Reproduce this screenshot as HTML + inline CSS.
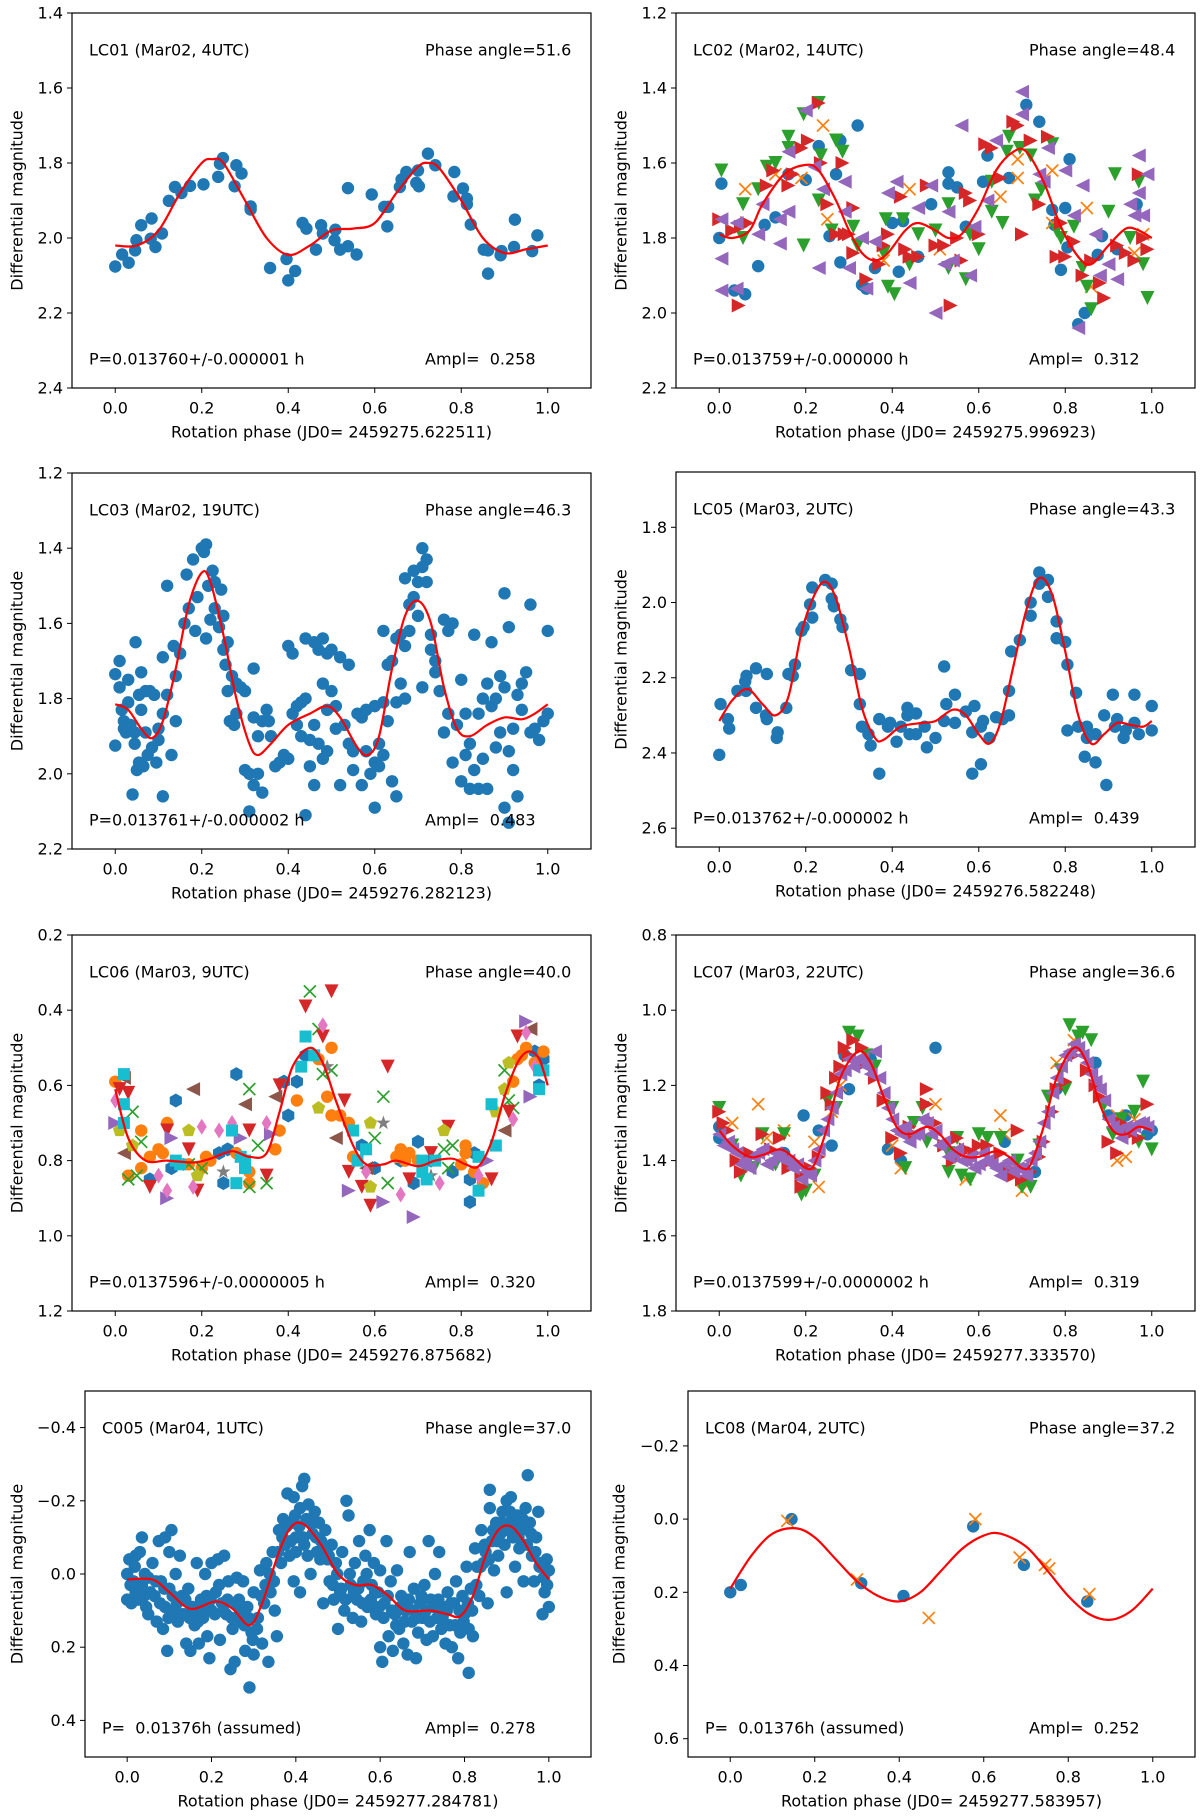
<!DOCTYPE html>
<html>
<head>
<meta charset="utf-8">
<style>
  html,body{margin:0;padding:0;background:#fff;}
  svg{display:block;}
  text{font-family:"DejaVu Sans","Liberation Sans",sans-serif;fill:#000;white-space:pre;}
</style>
</head>
<body>
<svg id="fig" width="1200" height="1816" viewBox="0 0 1200 1816" xmlns="http://www.w3.org/2000/svg" xml:space="preserve"></svg>
<script>
// ===== LC01 =====
const lc01Blue=[[0,2.076],[0.016,2.044],[0.031,2.066],[0.049,2.006],[0.046,2.033],[0.06,1.966],[0.084,1.948],[0.082,2.002],[0.093,2.024],[0.108,1.988],[0.124,1.901],[0.138,1.864],[0.153,1.88],[0.173,1.861],[0.204,1.857],[0.238,1.837],[0.242,1.802],[0.249,1.787],[0.276,1.862],[0.28,1.806],[0.292,1.828],[0.313,1.916],[0.313,1.924],[0.358,2.08],[0.396,2.056],[0.4,2.113],[0.416,2.088],[0.433,1.96],[0.442,1.975],[0.464,2.031],[0.476,1.966],[0.48,1.988],[0.509,1.978],[0.507,2.006],[0.52,2.031],[0.538,1.867],[0.538,2.022],[0.558,2.044],[0.593,1.884],[0.622,1.917],[0.631,1.917],[0.629,1.969],[0.658,1.864],[0.662,1.844],[0.673,1.824],[0.696,1.853],[0.702,1.862],[0.7,1.82],[0.723,1.775],[0.74,1.806],[0.784,1.824],[0.782,1.889],[0.804,1.868],[0.813,1.895],[0.813,1.91],[0.822,1.964],[0.852,2.031],[0.862,2.033],[0.862,2.095],[0.891,2.046],[0.893,2.035],[0.922,2.024],[0.924,1.951],[0.964,2.035],[0.976,1.993]];
const lc01Fit=[[0,2.02],[0.05,2.02],[0.1,1.98],[0.15,1.88],[0.2,1.80],[0.225,1.79],[0.25,1.80],[0.3,1.90],[0.35,2.00],[0.4,2.045],[0.45,2.02],[0.5,1.98],[0.55,1.975],[0.6,1.96],[0.65,1.88],[0.7,1.81],[0.725,1.80],[0.75,1.815],[0.8,1.90],[0.85,2.00],[0.9,2.04],[0.95,2.03],[1.0,2.02]];
// ===== LC02 =====
const lc02Blue=[[0,1.80],[0.005,1.655],[0.035,1.94],[0.06,1.95],[0.09,1.875],[0.105,1.765],[0.13,1.745],[0.16,1.63],[0.2,1.645],[0.23,1.555],[0.255,1.795],[0.28,1.54],[0.28,1.865],[0.27,1.63],[0.32,1.5],[0.33,1.925],[0.34,1.935],[0.36,1.88],[0.4,1.76],[0.415,1.89],[0.425,1.755],[0.46,1.85],[0.49,1.71],[0.53,1.625],[0.53,1.655],[0.55,1.665],[0.57,1.77],[0.61,1.65],[0.62,1.58],[0.67,1.64],[0.71,1.445],[0.74,1.49],[0.77,1.725],[0.775,1.765],[0.79,1.885],[0.8,1.72],[0.81,1.59],[0.805,1.825],[0.83,2.03],[0.845,2.0],[0.875,1.845],[0.885,1.795],[0.92,1.83],[0.965,1.71]];
const lc02Green=[[0.005,1.62],[0.055,1.8],[0.055,1.71],[0.09,1.67],[0.11,1.61],[0.13,1.6],[0.16,1.53],[0.16,1.56],[0.195,1.47],[0.195,1.82],[0.23,1.44],[0.23,1.7],[0.235,1.58],[0.26,1.78],[0.27,1.54],[0.285,1.57],[0.31,1.77],[0.32,1.82],[0.38,1.84],[0.385,1.75],[0.39,1.93],[0.405,1.95],[0.425,1.75],[0.44,1.87],[0.46,1.79],[0.5,1.78],[0.53,1.71],[0.53,1.88],[0.57,1.91],[0.58,1.79],[0.6,1.83],[0.63,1.65],[0.63,1.73],[0.655,1.76],[0.665,1.57],[0.67,1.53],[0.695,1.56],[0.72,1.58],[0.73,1.7],[0.745,1.67],[0.77,1.55],[0.78,1.78],[0.79,1.8],[0.82,1.77],[0.84,1.88],[0.85,1.93],[0.86,1.99],[0.9,1.73],[0.915,1.63],[0.95,1.8],[0.97,1.65],[0.98,1.87],[0.99,1.96]];
const lc02Red=[[0,1.75],[0.03,1.78],[0.05,1.77],[0.065,1.76],[0.045,1.98],[0.11,1.66],[0.125,1.62],[0.16,1.66],[0.17,1.63],[0.19,1.56],[0.205,1.54],[0.23,1.44],[0.235,1.6],[0.25,1.71],[0.285,1.6],[0.27,1.79],[0.29,1.79],[0.3,1.79],[0.31,1.72],[0.31,1.84],[0.34,1.91],[0.37,1.87],[0.38,1.82],[0.39,1.79],[0.42,1.69],[0.43,1.83],[0.44,1.85],[0.46,1.85],[0.48,1.66],[0.5,1.82],[0.52,1.82],[0.535,1.98],[0.55,1.8],[0.56,1.86],[0.57,1.68],[0.58,1.7],[0.6,1.79],[0.615,1.55],[0.63,1.56],[0.65,1.64],[0.68,1.49],[0.69,1.5],[0.7,1.79],[0.72,1.54],[0.74,1.71],[0.76,1.53],[0.78,1.85],[0.79,1.76],[0.8,1.85],[0.82,1.81],[0.84,1.9],[0.86,1.86],[0.88,1.92],[0.89,1.96],[0.92,1.82],[0.94,1.84],[0.96,1.86],[0.97,1.63],[0.98,1.8],[0.99,1.83]];
const lc02Purple=[[0.005,1.75],[0.005,1.855],[0.005,1.94],[0.04,1.935],[0.04,1.76],[0.09,1.79],[0.1,1.71],[0.14,1.75],[0.14,1.815],[0.16,1.57],[0.16,1.73],[0.2,1.46],[0.22,1.61],[0.23,1.88],[0.24,1.67],[0.29,1.65],[0.29,1.73],[0.3,1.88],[0.33,1.8],[0.34,1.935],[0.36,1.81],[0.39,1.68],[0.41,1.65],[0.44,1.92],[0.46,1.72],[0.49,1.66],[0.5,2.0],[0.52,1.87],[0.53,1.73],[0.54,1.86],[0.56,1.5],[0.58,1.9],[0.59,1.77],[0.62,1.7],[0.64,1.54],[0.7,1.47],[0.7,1.41],[0.74,1.63],[0.75,1.65],[0.76,1.56],[0.8,1.62],[0.82,1.74],[0.83,2.04],[0.84,1.66],[0.87,1.79],[0.88,1.9],[0.9,1.87],[0.92,1.91],[0.95,1.71],[0.96,1.74],[0.97,1.58],[0.97,1.68],[0.99,1.63],[0.98,1.74]];
const lc02Orange=[[0.06,1.67],[0.13,1.63],[0.19,1.64],[0.24,1.5],[0.25,1.75],[0.38,1.86],[0.44,1.67],[0.51,1.83],[0.65,1.69],[0.69,1.59],[0.69,1.64],[0.77,1.62],[0.77,1.76],[0.85,1.72],[0.86,1.93],[0.96,1.84],[0.98,1.79]];
const lc02Fit=[[0,1.79],[0.03,1.80],[0.07,1.78],[0.1,1.71],[0.15,1.63],[0.2,1.605],[0.23,1.62],[0.27,1.70],[0.3,1.78],[0.33,1.84],[0.36,1.86],[0.39,1.84],[0.43,1.78],[0.46,1.76],[0.5,1.78],[0.53,1.80],[0.56,1.79],[0.6,1.72],[0.64,1.62],[0.68,1.57],[0.71,1.57],[0.75,1.65],[0.79,1.77],[0.83,1.85],[0.86,1.87],[0.9,1.82],[0.94,1.775],[0.97,1.78],[1.0,1.80]];
// ===== LC03 =====
const lc03Blue=[[0,1.735],[0,1.925],[0.01,1.70],[0.01,1.77],[0.015,1.83],[0.02,1.86],[0.02,1.88],[0.025,1.89],[0.03,1.75],[0.03,1.81],[0.035,1.87],[0.04,2.055],[0.045,1.89],[0.045,1.92],[0.047,1.65],[0.05,1.99],[0.055,1.79],[0.055,1.97],[0.06,1.73],[0.06,1.83],[0.065,1.98],[0.07,1.78],[0.07,1.89],[0.075,1.95],[0.08,1.78],[0.085,1.93],[0.09,1.79],[0.095,1.97],[0.1,1.88],[0.1,1.91],[0.11,1.69],[0.11,1.84],[0.11,2.06],[0.12,1.50],[0.12,1.79],[0.13,1.95],[0.135,1.66],[0.14,1.86],[0.14,1.74],[0.15,1.68],[0.16,1.60],[0.165,1.47],[0.17,1.56],[0.18,1.43],[0.185,1.62],[0.19,1.53],[0.2,1.40],[0.205,1.41],[0.21,1.39],[0.21,1.64],[0.215,1.50],[0.22,1.59],[0.225,1.46],[0.23,1.49],[0.23,1.56],[0.24,1.61],[0.245,1.51],[0.25,1.58],[0.25,1.67],[0.255,1.71],[0.26,1.65],[0.26,1.78],[0.265,1.86],[0.27,1.74],[0.275,1.87],[0.28,1.76],[0.28,1.84],[0.29,1.77],[0.3,1.78],[0.3,1.99],[0.31,2.0],[0.31,2.1],[0.32,1.72],[0.32,1.85],[0.32,2.03],[0.33,1.90],[0.33,2.00],[0.34,1.86],[0.34,2.05],[0.35,1.83],[0.355,1.86],[0.36,1.90],[0.37,1.98],[0.38,1.97],[0.39,1.95],[0.4,1.66],[0.4,1.96],[0.41,1.68],[0.41,1.84],[0.42,1.82],[0.42,1.87],[0.43,1.81],[0.43,1.90],[0.44,1.64],[0.44,1.80],[0.44,2.11],[0.45,1.91],[0.45,1.98],[0.46,1.65],[0.46,1.87],[0.46,2.03],[0.47,1.67],[0.47,1.92],[0.48,1.64],[0.48,1.76],[0.48,1.96],[0.49,1.68],[0.49,1.83],[0.49,1.94],[0.5,1.67],[0.5,1.78],[0.51,1.82],[0.51,1.88],[0.52,1.69],[0.52,2.03],[0.53,1.87],[0.54,1.71],[0.54,1.92],[0.55,1.94],[0.55,1.99],[0.56,1.84],[0.57,2.03],[0.57,1.85],[0.58,1.83],[0.58,1.94],[0.59,2.0],[0.6,1.82],[0.6,1.97],[0.6,2.09],[0.61,1.92],[0.61,1.98],[0.62,1.81],[0.62,1.95],[0.62,1.62],[0.63,1.71],[0.63,1.86],[0.64,1.70],[0.64,2.02],[0.65,1.64],[0.65,1.81],[0.65,2.06],[0.66,1.63],[0.66,1.76],[0.67,1.48],[0.67,1.66],[0.67,1.80],[0.68,1.55],[0.68,1.62],[0.69,1.46],[0.69,1.53],[0.7,1.49],[0.7,1.58],[0.71,1.40],[0.71,1.45],[0.71,1.77],[0.72,1.49],[0.72,1.43],[0.73,1.63],[0.73,1.67],[0.74,1.70],[0.74,1.73],[0.75,1.78],[0.76,1.59],[0.76,1.89],[0.77,1.62],[0.77,1.84],[0.78,1.60],[0.78,1.97],[0.79,1.87],[0.8,1.75],[0.8,2.02],[0.81,1.84],[0.81,1.95],[0.82,1.92],[0.82,2.04],[0.83,1.63],[0.83,1.99],[0.84,1.84],[0.84,2.04],[0.85,1.80],[0.85,1.96],[0.86,1.76],[0.86,2.04],[0.87,1.65],[0.87,1.82],[0.88,1.80],[0.88,1.93],[0.89,1.89],[0.89,1.74],[0.9,1.52],[0.9,1.77],[0.9,2.09],[0.91,1.61],[0.91,1.94],[0.91,2.13],[0.92,1.88],[0.92,1.99],[0.93,1.79],[0.93,2.06],[0.94,1.76],[0.94,1.83],[0.95,1.73],[0.96,1.55],[0.96,1.89],[0.97,1.88],[0.98,1.91],[0.99,1.86],[1.0,1.84],[1.0,1.62]];
const lc03Fit=[[0,1.815],[0.03,1.83],[0.06,1.88],[0.085,1.905],[0.11,1.86],[0.14,1.72],[0.17,1.55],[0.2,1.465],[0.22,1.49],[0.25,1.63],[0.28,1.80],[0.31,1.92],[0.33,1.95],[0.36,1.92],[0.4,1.87],[0.45,1.84],[0.49,1.82],[0.52,1.85],[0.56,1.93],[0.585,1.95],[0.61,1.90],[0.64,1.72],[0.67,1.58],[0.7,1.54],[0.73,1.60],[0.76,1.77],[0.79,1.88],[0.82,1.90],[0.86,1.87],[0.9,1.85],[0.94,1.855],[0.97,1.84],[1.0,1.815]];
// ===== LC05 =====
const lc05Blue=[[0,2.405],[0.003,2.27],[0.02,2.31],[0.023,2.335],[0.042,2.235],[0.06,2.21],[0.063,2.195],[0.062,2.235],[0.085,2.175],[0.085,2.28],[0.11,2.19],[0.108,2.3],[0.11,2.31],[0.133,2.36],[0.135,2.345],[0.155,2.28],[0.16,2.19],[0.17,2.195],[0.175,2.165],[0.19,2.075],[0.195,2.065],[0.21,2.005],[0.215,2.04],[0.215,1.96],[0.245,1.94],[0.26,1.95],[0.26,1.99],[0.265,2.01],[0.28,2.045],[0.285,2.065],[0.305,2.18],[0.325,2.19],[0.325,2.27],[0.33,2.33],[0.345,2.35],[0.35,2.38],[0.37,2.31],[0.37,2.455],[0.39,2.33],[0.395,2.32],[0.41,2.37],[0.42,2.33],[0.435,2.28],[0.435,2.3],[0.44,2.35],[0.455,2.295],[0.455,2.35],[0.475,2.33],[0.48,2.385],[0.5,2.36],[0.52,2.17],[0.52,2.315],[0.525,2.27],[0.545,2.245],[0.545,2.32],[0.57,2.29],[0.585,2.345],[0.59,2.275],[0.585,2.455],[0.605,2.33],[0.605,2.43],[0.61,2.315],[0.625,2.36],[0.64,2.305],[0.655,2.31],[0.67,2.235],[0.67,2.3],[0.675,2.13],[0.695,2.1],[0.72,2.0],[0.72,2.035],[0.74,1.92],[0.74,1.95],[0.76,1.94],[0.76,1.985],[0.78,2.05],[0.78,2.095],[0.8,2.105],[0.805,2.165],[0.805,2.34],[0.825,2.24],[0.83,2.33],[0.845,2.41],[0.85,2.36],[0.85,2.33],[0.87,2.35],[0.87,2.425],[0.89,2.3],[0.895,2.485],[0.91,2.245],[0.915,2.33],[0.92,2.31],[0.935,2.36],[0.94,2.34],[0.96,2.245],[0.96,2.32],[0.97,2.35],[1.0,2.275],[1.0,2.34]];
const lc05Fit=[[0,2.315],[0.03,2.26],[0.065,2.23],[0.1,2.27],[0.13,2.30],[0.16,2.25],[0.19,2.08],[0.22,1.98],[0.245,1.945],[0.27,1.99],[0.3,2.12],[0.33,2.28],[0.36,2.36],[0.38,2.365],[0.42,2.33],[0.47,2.32],[0.5,2.315],[0.54,2.285],[0.57,2.30],[0.6,2.35],[0.625,2.375],[0.65,2.32],[0.68,2.17],[0.71,2.02],[0.74,1.935],[0.77,1.98],[0.8,2.13],[0.83,2.30],[0.86,2.375],[0.89,2.35],[0.92,2.32],[0.95,2.325],[0.98,2.33],[1.0,2.315]];
// ===== LC06 =====
const lc06Blue=[[0.14,0.64],[0.28,0.57],[0.13,0.82],[0.25,0.86],[0.39,0.59],[0.4,0.68],[0.6,0.82],[0.69,0.86],[0.7,0.75],[0.78,0.83],[0.82,0.91],[0.83,0.78],[0.97,0.51],[0.98,0.60],[0.99,0.53],[0.08,0.85],[0.26,0.77],[0.57,0.76],[0.73,0.80],[0.42,0.59],[0.24,0.78],[0.44,0.52],[0.66,0.80],[0.82,0.85]];
const lc06Orange=[[0,0.59],[0.06,0.72],[0.06,0.82],[0.1,0.77],[0.12,0.70],[0.2,0.82],[0.22,0.80],[0.28,0.78],[0.31,0.83],[0.31,0.86],[0.38,0.72],[0.42,0.64],[0.47,0.53],[0.5,0.50],[0.49,0.63],[0.5,0.68],[0.54,0.70],[0.55,0.79],[0.66,0.77],[0.67,0.80],[0.7,0.80],[0.8,0.81],[0.81,0.78],[0.81,0.76],[0.83,0.83],[0.85,0.86],[0.93,0.53],[0.95,0.50],[0.97,0.54],[0.99,0.51],[0.92,0.59],[0.03,0.84],[0.17,0.81],[0.08,0.79],[0.11,0.78],[0.21,0.79],[0.37,0.77],[0.52,0.68],[0.65,0.79],[0.68,0.78],[0.94,0.52]];
const lc06Green=[[0.03,0.85],[0.04,0.67],[0.05,0.84],[0.06,0.75],[0.17,0.81],[0.2,0.82],[0.31,0.61],[0.31,0.87],[0.33,0.76],[0.35,0.86],[0.45,0.35],[0.47,0.45],[0.48,0.57],[0.5,0.56],[0.6,0.74],[0.62,0.63],[0.63,0.86],[0.76,0.77],[0.77,0.82],[0.78,0.76],[0.9,0.56],[0.91,0.64],[0.92,0.66]];
const lc06Red=[[0.01,0.61],[0.03,0.62],[0.08,0.87],[0.12,0.72],[0.17,0.77],[0.19,0.88],[0.31,0.72],[0.35,0.84],[0.38,0.60],[0.44,0.39],[0.48,0.47],[0.5,0.35],[0.53,0.64],[0.54,0.83],[0.57,0.87],[0.59,0.92],[0.63,0.55],[0.68,0.85],[0.73,0.78],[0.77,0.71],[0.87,0.85],[0.93,0.47],[0.91,0.67]];
const lc06Purple=[[0,0.70],[0.13,0.74],[0.12,0.90],[0.29,0.74],[0.36,0.73],[0.54,0.88],[0.62,0.91],[0.69,0.95],[0.86,0.80],[0.95,0.43],[0.96,0.63]];
const lc06Brown=[[0.02,0.58],[0.02,0.78],[0.18,0.61],[0.3,0.65],[0.37,0.63],[0.51,0.74],[0.58,0.82],[0.96,0.45],[0.9,0.72]];
const lc06Pink=[[0,0.64],[0.1,0.84],[0.12,0.88],[0.18,0.87],[0.2,0.71],[0.24,0.72],[0.27,0.70],[0.35,0.70],[0.48,0.44],[0.58,0.83],[0.66,0.89],[0.75,0.86],[0.84,0.84],[0.92,0.69],[0.95,0.46],[0.97,0.55]];
const lc06Gray=[[0.25,0.83],[0.49,0.55],[0.62,0.70],[0.73,0.84]];
const lc06Olive=[[0.01,0.72],[0.04,0.76],[0.17,0.72],[0.19,0.84],[0.47,0.66],[0.59,0.70],[0.59,0.87],[0.76,0.72],[0.9,0.61],[0.91,0.54],[0.88,0.67]];
const lc06Cyan=[[0.02,0.57],[0.02,0.65],[0.02,0.70],[0.15,0.81],[0.27,0.72],[0.28,0.86],[0.3,0.80],[0.3,0.82],[0.43,0.55],[0.44,0.47],[0.46,0.52],[0.55,0.72],[0.56,0.80],[0.58,0.77],[0.71,0.83],[0.72,0.85],[0.74,0.80],[0.84,0.79],[0.84,0.88],[0.87,0.65],[0.88,0.76],[0.98,0.61],[0.98,0.56],[0.99,0.56],[0.14,0.80],[0.29,0.79],[0.71,0.80]];
const lc06Fit=[[0,0.61],[0.03,0.74],[0.07,0.80],[0.12,0.80],[0.18,0.805],[0.22,0.795],[0.27,0.775],[0.31,0.79],[0.35,0.78],[0.38,0.67],[0.41,0.55],[0.45,0.50],[0.48,0.54],[0.51,0.64],[0.55,0.76],[0.58,0.81],[0.62,0.81],[0.65,0.80],[0.7,0.815],[0.74,0.80],[0.78,0.795],[0.81,0.81],[0.84,0.815],[0.87,0.75],[0.9,0.63],[0.93,0.54],[0.955,0.51],[0.98,0.53],[1.0,0.60]];
// ===== LC07 =====
const lc07Purple=[[0,1.33],[0.02,1.35],[0.04,1.38],[0.06,1.40],[0.08,1.39],[0.1,1.37],[0.12,1.40],[0.14,1.39],[0.16,1.40],[0.18,1.41],[0.2,1.43],[0.22,1.40],[0.24,1.32],[0.26,1.26],[0.28,1.17],[0.3,1.13],[0.32,1.13],[0.34,1.15],[0.36,1.11],[0.38,1.22],[0.4,1.29],[0.42,1.33],[0.44,1.35],[0.46,1.33],[0.48,1.30],[0.5,1.32],[0.52,1.35],[0.54,1.38],[0.56,1.40],[0.58,1.39],[0.6,1.41],[0.62,1.40],[0.64,1.42],[0.66,1.41],[0.68,1.43],[0.7,1.42],[0.72,1.40],[0.74,1.35],[0.76,1.27],[0.78,1.18],[0.8,1.12],[0.82,1.09],[0.84,1.12],[0.86,1.17],[0.88,1.21],[0.9,1.29],[0.92,1.32],[0.94,1.31],[0.96,1.31],[0.98,1.30],[0.03,1.37],[0.09,1.38],[0.15,1.40],[0.27,1.22],[0.33,1.13],[0.45,1.33],[0.57,1.40],[0.69,1.42],[0.79,1.15],[0.85,1.14],[0.91,1.31],[0.97,1.30],[0.01,1.36],[0.05,1.41],[0.07,1.42],[0.11,1.41],[0.13,1.38],[0.17,1.42],[0.19,1.45],[0.21,1.44],[0.23,1.37],[0.25,1.29],[0.29,1.16],[0.31,1.15],[0.35,1.17],[0.37,1.18],[0.39,1.26],[0.41,1.32],[0.43,1.31],[0.47,1.29],[0.49,1.33],[0.51,1.36],[0.53,1.39],[0.55,1.37],[0.59,1.42],[0.61,1.38],[0.63,1.41],[0.65,1.44],[0.67,1.40],[0.71,1.44],[0.73,1.38],[0.75,1.30],[0.77,1.22],[0.81,1.11],[0.83,1.10],[0.87,1.19],[0.89,1.24],[0.93,1.34],[0.95,1.32],[0.99,1.31]];
const lc07Red=[[0,1.27],[0.01,1.30],[0.04,1.40],[0.05,1.43],[0.1,1.33],[0.14,1.34],[0.17,1.40],[0.19,1.44],[0.19,1.47],[0.21,1.42],[0.25,1.22],[0.27,1.18],[0.28,1.15],[0.29,1.10],[0.31,1.08],[0.33,1.10],[0.36,1.18],[0.4,1.34],[0.42,1.38],[0.45,1.33],[0.48,1.25],[0.48,1.21],[0.52,1.36],[0.55,1.34],[0.57,1.37],[0.6,1.36],[0.63,1.40],[0.67,1.42],[0.69,1.32],[0.7,1.45],[0.72,1.43],[0.75,1.35],[0.77,1.27],[0.8,1.19],[0.83,1.10],[0.87,1.20],[0.9,1.35],[0.92,1.38],[0.95,1.33],[0.99,1.25],[0.56,1.38],[0.62,1.36],[0.02,1.32],[0.07,1.38],[0.12,1.37],[0.16,1.42],[0.23,1.39],[0.26,1.25],[0.3,1.12],[0.34,1.14],[0.38,1.24],[0.44,1.31],[0.5,1.30],[0.54,1.40],[0.59,1.38],[0.65,1.38],[0.68,1.44],[0.74,1.39],[0.78,1.21],[0.82,1.12],[0.85,1.16],[0.88,1.23],[0.93,1.30],[0.97,1.34]];
const lc07Green=[[0,1.26],[0.03,1.36],[0.05,1.44],[0.1,1.33],[0.13,1.41],[0.15,1.33],[0.19,1.49],[0.2,1.48],[0.25,1.24],[0.27,1.26],[0.3,1.06],[0.32,1.07],[0.36,1.15],[0.4,1.26],[0.43,1.42],[0.47,1.26],[0.48,1.35],[0.53,1.38],[0.53,1.43],[0.55,1.34],[0.58,1.45],[0.62,1.34],[0.65,1.34],[0.69,1.40],[0.7,1.47],[0.72,1.47],[0.76,1.23],[0.8,1.21],[0.81,1.04],[0.84,1.06],[0.86,1.08],[0.89,1.25],[0.93,1.29],[0.96,1.27],[0.98,1.19],[1.0,1.37],[0.97,1.35],[0.08,1.42],[0.22,1.44],[0.34,1.12],[0.45,1.30],[0.56,1.44],[0.6,1.33],[0.74,1.36],[0.79,1.16],[0.83,1.07],[0.91,1.33]];
const lc07Orange=[[0.03,1.30],[0.09,1.25],[0.11,1.34],[0.15,1.32],[0.22,1.35],[0.23,1.47],[0.26,1.27],[0.28,1.20],[0.4,1.36],[0.42,1.42],[0.5,1.25],[0.52,1.36],[0.57,1.45],[0.65,1.28],[0.66,1.33],[0.7,1.48],[0.78,1.14],[0.82,1.08],[0.92,1.40],[0.94,1.39],[0.96,1.29],[0.92,1.28]];
const lc07Blue=[[0,1.31],[0,1.34],[0.15,1.38],[0.195,1.28],[0.23,1.32],[0.26,1.36],[0.3,1.21],[0.29,1.12],[0.35,1.13],[0.39,1.37],[0.42,1.40],[0.5,1.10],[0.66,1.35],[0.73,1.43],[0.78,1.21],[0.87,1.14],[0.9,1.28],[0.94,1.28],[0.99,1.33],[1.0,1.32]];
const lc07Fit=[[0,1.32],[0.03,1.36],[0.07,1.39],[0.1,1.385],[0.14,1.37],[0.17,1.39],[0.2,1.42],[0.22,1.41],[0.25,1.31],[0.28,1.18],[0.32,1.11],[0.35,1.14],[0.38,1.23],[0.41,1.31],[0.44,1.33],[0.48,1.31],[0.51,1.33],[0.54,1.37],[0.57,1.39],[0.6,1.39],[0.64,1.375],[0.67,1.39],[0.7,1.42],[0.72,1.41],[0.75,1.31],[0.78,1.18],[0.82,1.10],[0.85,1.14],[0.88,1.25],[0.91,1.32],[0.94,1.33],[0.97,1.31],[1.0,1.32]];
// ===== C005 =====
const c005Blue=[[0,0.0],[0,0.07],[0.005,-0.04],[0.01,0.08],[0.015,0.02],[0.02,0.05],[0.02,-0.05],[0.03,-0.06],[0.035,0.03],[0.035,-0.1],[0.04,0.06],[0.045,0.09],[0.05,0.01],[0.05,0.11],[0.06,-0.03],[0.065,0.06],[0.07,0.13],[0.075,-0.09],[0.08,0.02],[0.085,0.15],[0.09,-0.1],[0.09,0.09],[0.095,0.21],[0.1,0.04],[0.1,-0.06],[0.105,-0.12],[0.11,0.1],[0.115,0.0],[0.12,0.13],[0.125,-0.05],[0.13,0.06],[0.135,0.11],[0.14,0.19],[0.145,0.04],[0.15,0.21],[0.155,0.09],[0.16,0.14],[0.165,-0.03],[0.17,0.19],[0.175,0.07],[0.18,0.12],[0.185,0.0],[0.19,0.17],[0.195,0.23],[0.2,0.1],[0.2,-0.03],[0.21,0.05],[0.215,-0.04],[0.22,0.18],[0.225,0.08],[0.23,-0.05],[0.235,0.11],[0.24,0.02],[0.245,0.26],[0.25,0.15],[0.255,0.24],[0.26,0.01],[0.265,0.07],[0.27,0.13],[0.275,0.02],[0.28,0.21],[0.285,0.09],[0.29,0.31],[0.295,0.16],[0.3,0.05],[0.3,0.22],[0.31,0.12],[0.315,-0.01],[0.32,0.19],[0.325,0.08],[0.33,-0.03],[0.335,0.24],[0.34,0.05],[0.345,-0.06],[0.35,0.1],[0.355,0.17],[0.36,-0.12],[0.365,-0.03],[0.37,-0.15],[0.375,-0.08],[0.38,-0.22],[0.385,-0.05],[0.39,-0.14],[0.395,-0.21],[0.4,-0.1],[0.4,-0.06],[0.395,0.02],[0.41,-0.18],[0.41,0.05],[0.415,-0.24],[0.42,-0.26],[0.42,-0.08],[0.425,-0.15],[0.43,-0.19],[0.435,0.0],[0.44,-0.11],[0.445,-0.17],[0.45,-0.06],[0.455,-0.14],[0.46,-0.09],[0.465,0.08],[0.47,-0.12],[0.475,-0.04],[0.48,0.02],[0.485,-0.08],[0.49,0.07],[0.495,-0.03],[0.5,0.15],[0.505,0.05],[0.51,-0.06],[0.515,0.1],[0.52,-0.2],[0.525,-0.16],[0.53,0.03],[0.535,0.12],[0.54,-0.03],[0.545,0.07],[0.55,-0.09],[0.555,0.13],[0.56,0.02],[0.565,-0.05],[0.57,0.09],[0.575,-0.12],[0.58,0.03],[0.585,-0.03],[0.59,0.11],[0.595,0.05],[0.6,0.2],[0.6,-0.01],[0.605,0.24],[0.61,0.08],[0.615,-0.09],[0.62,0.17],[0.625,0.02],[0.63,0.21],[0.635,0.11],[0.64,-0.01],[0.645,0.15],[0.65,0.06],[0.655,0.19],[0.66,0.1],[0.665,0.22],[0.67,-0.06],[0.675,0.13],[0.68,0.04],[0.685,0.23],[0.69,0.16],[0.695,0.08],[0.7,0.12],[0.705,0.03],[0.71,0.18],[0.715,-0.09],[0.72,0.07],[0.725,0.17],[0.73,0.0],[0.735,0.12],[0.74,-0.06],[0.745,0.15],[0.75,0.09],[0.755,0.19],[0.76,0.05],[0.765,0.14],[0.77,0.2],[0.775,0.08],[0.78,0.02],[0.785,0.23],[0.79,0.16],[0.795,0.06],[0.8,0.11],[0.805,-0.02],[0.81,0.27],[0.81,0.15],[0.815,0.04],[0.82,0.17],[0.825,-0.07],[0.83,-0.02],[0.835,0.06],[0.84,-0.12],[0.845,-0.03],[0.85,-0.06],[0.855,0.08],[0.86,-0.23],[0.86,-0.18],[0.865,-0.09],[0.87,-0.01],[0.875,-0.14],[0.88,-0.05],[0.885,-0.11],[0.89,-0.17],[0.895,-0.08],[0.9,-0.2],[0.9,0.05],[0.905,-0.14],[0.91,-0.21],[0.915,-0.1],[0.92,-0.02],[0.925,-0.16],[0.93,-0.07],[0.935,-0.12],[0.94,0.02],[0.945,-0.18],[0.95,-0.27],[0.955,-0.14],[0.96,-0.05],[0.965,0.02],[0.97,-0.1],[0.975,-0.17],[0.98,-0.03],[0.985,0.11],[0.99,0.05],[0.995,-0.04],[1.0,0.09],[1.0,-0.01]];
const c005Blue2=[[0.008,0.03],[0.018,-0.02],[0.027,0.07],[0.042,0.0],[0.055,0.05],[0.068,0.02],[0.078,0.08],[0.088,0.04],[0.098,0.12],[0.108,0.06],[0.118,0.08],[0.128,0.11],[0.138,0.07],[0.148,0.12],[0.158,0.1],[0.168,0.13],[0.178,0.09],[0.188,0.06],[0.198,0.07],[0.208,0.11],[0.218,0.03],[0.228,0.1],[0.238,0.07],[0.248,0.12],[0.258,0.08],[0.268,0.1],[0.278,0.14],[0.288,0.12],[0.298,0.18],[0.308,0.15],[0.318,0.06],[0.328,0.03],[0.338,0.0],[0.348,0.02],[0.358,-0.06],[0.368,-0.1],[0.378,-0.13],[0.388,-0.09],[0.398,-0.16],[0.408,-0.13],[0.418,-0.1],[0.428,-0.05],[0.438,-0.14],[0.448,-0.1],[0.458,-0.04],[0.468,-0.07],[0.478,-0.05],[0.488,0.03],[0.498,0.0],[0.508,0.04],[0.518,0.07],[0.528,0.0],[0.538,0.05],[0.548,0.04],[0.558,0.08],[0.568,0.0],[0.578,0.07],[0.588,0.05],[0.598,0.09],[0.608,0.12],[0.618,0.06],[0.628,0.1],[0.638,0.14],[0.648,0.09],[0.658,0.13],[0.668,0.07],[0.678,0.1],[0.688,0.12],[0.698,0.06],[0.708,0.1],[0.718,0.13],[0.728,0.09],[0.738,0.07],[0.748,0.12],[0.758,0.1],[0.768,0.08],[0.778,0.14],[0.788,0.1],[0.798,0.13],[0.808,0.08],[0.818,0.1],[0.828,0.03],[0.838,-0.02],[0.848,-0.08],[0.858,-0.04],[0.868,-0.12],[0.878,-0.09],[0.888,-0.14],[0.898,-0.12],[0.908,-0.17],[0.918,-0.13],[0.928,-0.1],[0.938,-0.15],[0.948,-0.08],[0.958,-0.11],[0.968,-0.06],[0.978,-0.02],[0.988,0.01],[0.996,0.03]];
const c005Fit=[[0,0.015],[0.06,0.015],[0.1,0.05],[0.15,0.095],[0.21,0.075],[0.25,0.095],[0.29,0.14],[0.32,0.08],[0.36,-0.06],[0.39,-0.13],[0.42,-0.135],[0.46,-0.08],[0.5,0.0],[0.54,0.03],[0.58,0.03],[0.62,0.06],[0.66,0.10],[0.72,0.10],[0.76,0.11],[0.79,0.115],[0.82,0.06],[0.85,-0.05],[0.88,-0.12],[0.91,-0.13],[0.94,-0.09],[0.97,-0.03],[1.0,0.015]];
// ===== LC08 =====
const lc08Blue=[[0,0.2],[0.025,0.18],[0.145,0.0],[0.31,0.175],[0.41,0.21],[0.575,0.02],[0.695,0.125],[0.845,0.225]];
const lc08Orange=[[0.135,0.005],[0.3,0.165],[0.47,0.27],[0.58,0.0],[0.685,0.105],[0.745,0.125],[0.755,0.135],[0.85,0.205]];
const lc08Fit=[[0,0.19],[0.05,0.1],[0.1,0.04],[0.155,0.025],[0.2,0.05],[0.25,0.11],[0.3,0.17],[0.35,0.21],[0.4,0.225],[0.45,0.2],[0.5,0.14],[0.55,0.08],[0.6,0.045],[0.64,0.04],[0.7,0.075],[0.75,0.14],[0.8,0.21],[0.85,0.26],[0.9,0.275],[0.95,0.25],[1.0,0.19]];
const xTicks=[0,0.2,0.4,0.6,0.8,1.0];

const C={blue:'#1f77b4',orange:'#ff7f0e',green:'#2ca02c',red:'#d62728',purple:'#9467bd',brown:'#8c564b',pink:'#e377c2',gray:'#7f7f7f',olive:'#bcbd22',cyan:'#17becf'};
const NS='http://www.w3.org/2000/svg';
const fig=document.getElementById('fig');
function el(tag,parent){const e=document.createElementNS(NS,tag);parent.appendChild(e);return e;}

const panels=[
 {id:'lc01',L:72,R:591,T:13,B:388,y0:1.4,y1:2.4,yt:[1.4,1.6,1.8,2.0,2.2,2.4],lx:17,t1:'LC01 (Mar02, 4UTC)',t2:'Phase angle=51.6',t3:'P=0.013760+/-0.000001 h',t4:'Ampl=  0.258',xl:'Rotation phase (JD0= 2459275.622511)',series:[[lc01Blue,'o',C.blue]],fit:lc01Fit},
 {id:'lc02',L:676,R:1195,T:13,B:388,y0:1.2,y1:2.2,yt:[1.2,1.4,1.6,1.8,2.0,2.2],lx:621,t1:'LC02 (Mar02, 14UTC)',t2:'Phase angle=48.4',t3:'P=0.013759+/-0.000000 h',t4:'Ampl=  0.312',xl:'Rotation phase (JD0= 2459275.996923)',series:[[lc02Blue,'o',C.blue],[lc02Orange,'x',C.orange],[lc02Green,'v',C.green],[lc02Red,'>',C.red],[lc02Purple,'<',C.purple]],fit:lc02Fit},
 {id:'lc03',L:72,R:591,T:473,B:849,y0:1.2,y1:2.2,yt:[1.2,1.4,1.6,1.8,2.0,2.2],lx:17,t1:'LC03 (Mar02, 19UTC)',t2:'Phase angle=46.3',t3:'P=0.013761+/-0.000002 h',t4:'Ampl=  0.483',xl:'Rotation phase (JD0= 2459276.282123)',series:[[lc03Blue,'o',C.blue]],fit:lc03Fit,pointsOver:true},
 {id:'lc05',L:676,R:1195,T:472,B:847,y0:1.653,y1:2.65,yt:[1.8,2.0,2.2,2.4,2.6],lx:621,t1:'LC05 (Mar03, 2UTC)',t2:'Phase angle=43.3',t3:'P=0.013762+/-0.000002 h',t4:'Ampl=  0.439',xl:'Rotation phase (JD0= 2459276.582248)',series:[[lc05Blue,'o',C.blue]],fit:lc05Fit},
 {id:'lc06',L:72,R:591,T:935,B:1311,y0:0.2,y1:1.2,yt:[0.2,0.4,0.6,0.8,1.0,1.2],lx:17,t1:'LC06 (Mar03, 9UTC)',t2:'Phase angle=40.0',t3:'P=0.0137596+/-0.0000005 h',t4:'Ampl=  0.320',xl:'Rotation phase (JD0= 2459276.875682)',series:[[lc06Blue,'h',C.blue],[lc06Orange,'o',C.orange],[lc06Green,'x',C.green],[lc06Red,'v',C.red],[lc06Purple,'>',C.purple],[lc06Brown,'<',C.brown],[lc06Pink,'d',C.pink],[lc06Gray,'*',C.gray],[lc06Olive,'p',C.olive],[lc06Cyan,'s',C.cyan]],fit:lc06Fit},
 {id:'lc07',L:676,R:1195,T:935,B:1311,y0:0.8,y1:1.8,yt:[0.8,1.0,1.2,1.4,1.6,1.8],lx:621,t1:'LC07 (Mar03, 22UTC)',t2:'Phase angle=36.6',t3:'P=0.0137599+/-0.0000002 h',t4:'Ampl=  0.319',xl:'Rotation phase (JD0= 2459277.333570)',series:[[lc07Blue,'o',C.blue],[lc07Orange,'x',C.orange],[lc07Green,'v',C.green],[lc07Red,'>',C.red],[lc07Purple,'<',C.purple]],fit:lc07Fit},
 {id:'c005',L:85,R:591,T:1391,B:1757,y0:-0.5,y1:0.5,yt:[-0.4,-0.2,0,0.2,0.4],lx:17,t1:'C005 (Mar04, 1UTC)',t2:'Phase angle=37.0',t3:'P=  0.01376h (assumed)',t4:'Ampl=  0.278',xl:'Rotation phase (JD0= 2459277.284781)',series:[[c005Blue,'o',C.blue],[c005Blue2,'o',C.blue]],fit:c005Fit},
 {id:'lc08',L:688,R:1195,T:1391,B:1757,y0:-0.35,y1:0.65,yt:[-0.2,0,0.2,0.4,0.6],lx:619,t1:'LC08 (Mar04, 2UTC)',t2:'Phase angle=37.2',t3:'P=  0.01376h (assumed)',t4:'Ampl=  0.252',xl:'Rotation phase (JD0= 2459277.583957)',series:[[lc08Blue,'o',C.blue],[lc08Orange,'x',C.orange]],fit:lc08Fit}
];

function marker(g,type,x,y,color){
  const s=7;let e;
  if(type==='o'){e=el('circle',g);e.setAttribute('cx',x);e.setAttribute('cy',y);e.setAttribute('r',6.2);e.setAttribute('fill',color);}
  else if(type==='x'){e=el('path',g);e.setAttribute('d',`M${x-6},${y-6}L${x+6},${y+6}M${x-6},${y+6}L${x+6},${y-6}`);e.setAttribute('stroke',color);e.setAttribute('stroke-width',1.7);e.setAttribute('fill','none');}
  else {
    let pts;
    if(type==='v')pts=[[-s,-s],[s,-s],[0,s]];
    else if(type==='>')pts=[[-s,-s],[s,0],[-s,s]];
    else if(type==='<')pts=[[s,-s],[-s,0],[s,s]];
    else if(type==='s')pts=[[-6,-6],[6,-6],[6,6],[-6,6]];
    else if(type==='d')pts=[[0,-8],[5,0],[0,8],[-5,0]];
    else if(type==='h'){pts=[];for(let i=0;i<6;i++){const a=Math.PI/2+i*Math.PI/3;pts.push([7*Math.cos(a),7*Math.sin(a)]);}}
    else if(type==='p'){pts=[];for(let i=0;i<5;i++){const a=-Math.PI/2+i*2*Math.PI/5;pts.push([7*Math.cos(a),7*Math.sin(a)]);}}
    else if(type==='*'){pts=[];for(let i=0;i<10;i++){const a=-Math.PI/2+i*Math.PI/5;const r=i%2?3:7.5;pts.push([r*Math.cos(a),r*Math.sin(a)]);}}
    e=el('polygon',g);e.setAttribute('points',pts.map(p=>(x+p[0])+','+(y+p[1])).join(' '));e.setAttribute('fill',color);
  }
  return e;
}

function smoothPath(pts){
  let d=`M${pts[0][0]},${pts[0][1]}`;
  for(let i=0;i<pts.length-1;i++){
    const p0=pts[Math.max(0,i-1)],p1=pts[i],p2=pts[i+1],p3=pts[Math.min(pts.length-1,i+2)];
    const c1x=p1[0]+(p2[0]-p0[0])/6,c1y=p1[1]+(p2[1]-p0[1])/6;
    const c2x=p2[0]-(p3[0]-p1[0])/6,c2y=p2[1]-(p3[1]-p1[1])/6;
    d+=`C${c1x},${c1y} ${c2x},${c2y} ${p2[0]},${p2[1]}`;
  }
  return d;
}
function fmt(v){const s=Math.abs(v).toFixed(1);return (v<-1e-9?'\u2212':'')+s;}

panels.forEach((P,pi)=>{
  const sx=v=>P.L+(v+0.1)/1.2*(P.R-P.L);
  const sy=v=>P.T+(v-P.y0)/(P.y1-P.y0)*(P.B-P.T);
  const g=el('g',fig);
  
  
  const cp=el('clipPath',g);cp.setAttribute('id','clip'+pi);
  const cr=el('rect',cp);cr.setAttribute('x',P.L);cr.setAttribute('y',P.T);cr.setAttribute('width',P.R-P.L);cr.setAttribute('height',P.B-P.T);
  const plot=el('g',g);plot.setAttribute('clip-path',`url(#clip${pi})`);
  
  
  const txt=(s,x,y,anchor)=>{const t=el('text',g);t.textContent=s;t.setAttribute('x',x);t.setAttribute('y',y);t.setAttribute('font-size','16');t.setAttribute('text-anchor',anchor);t.setAttribute('dominant-baseline','central');return t;};
  const drawMarks=()=>{
    P.series.forEach((S,si)=>{
      const sg=el('g',plot);
      
      
      S[0].forEach(d=>{const m=marker(sg,S[1],sx(d[0]),sy(d[1]),S[2]);
        
        });
    });
    const fp=el('path',plot);
    fp.setAttribute('d',smoothPath(P.fit.map(d=>[sx(d[0]),sy(d[1])])));
    fp.setAttribute('fill','none');fp.setAttribute('stroke','#ff0000');fp.setAttribute('stroke-width','2.2');
    
    
  };
  const drawTexts=()=>{
    let t;
    t=txt(P.t1,P.L+17,P.T+37,'start');
    
    
    t=txt(P.t2,P.R-166,P.T+37,'start');
    
    
    t=txt(P.t3,P.L+17,P.B-29,'start');
    
    
    t=txt(P.t4,P.R-166,P.B-29,'start');
    
    
  };
  if(P.pointsOver){drawTexts();drawMarks();}else{drawMarks();drawTexts();}
  const fr=el('rect',g);fr.setAttribute('x',P.L);fr.setAttribute('y',P.T);fr.setAttribute('width',P.R-P.L);fr.setAttribute('height',P.B-P.T);
  fr.setAttribute('fill','none');fr.setAttribute('stroke','#000');fr.setAttribute('stroke-width','1.2');
  
  
  xTicks.forEach(v=>{
    const x=sx(v);
    const l=el('line',g);l.setAttribute('x1',x);l.setAttribute('x2',x);l.setAttribute('y1',P.B);l.setAttribute('y2',P.B+5);l.setAttribute('stroke','#000');
    const t=el('text',g);t.textContent=v.toFixed(1);t.setAttribute('x',x);t.setAttribute('y',P.B+20);t.setAttribute('font-size','16');t.setAttribute('text-anchor','middle');t.setAttribute('dominant-baseline','central');
    
    
  });
  P.yt.forEach(v=>{
    const y=sy(v);
    const l=el('line',g);l.setAttribute('x1',P.L-5);l.setAttribute('x2',P.L);l.setAttribute('y1',y);l.setAttribute('y2',y);l.setAttribute('stroke','#000');
    const t=el('text',g);t.textContent=fmt(v);t.setAttribute('x',P.L-9);t.setAttribute('y',y);t.setAttribute('font-size','16');t.setAttribute('text-anchor','end');t.setAttribute('dominant-baseline','central');
    
    
  });
  const xl=el('text',g);xl.textContent=P.xl;xl.setAttribute('x',(P.L+P.R)/2);xl.setAttribute('y',P.B+44);xl.setAttribute('font-size','16');xl.setAttribute('text-anchor','middle');xl.setAttribute('dominant-baseline','central');
  
  
  const cy=(P.T+P.B)/2;
  const yl=el('text',g);yl.textContent='Differential magnitude';yl.setAttribute('x',P.lx);yl.setAttribute('y',cy);yl.setAttribute('font-size','16');yl.setAttribute('text-anchor','middle');yl.setAttribute('dominant-baseline','central');yl.setAttribute('transform',`rotate(-90 ${P.lx} ${cy})`);
  
  
});
</script>
</body>
</html>
